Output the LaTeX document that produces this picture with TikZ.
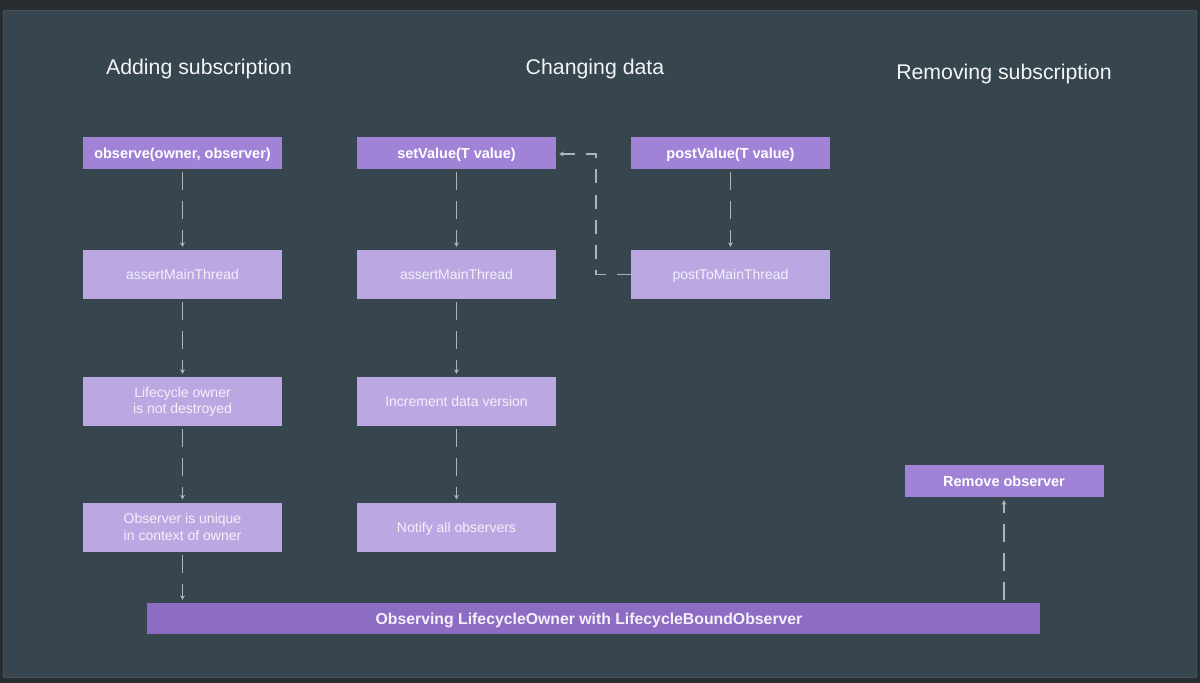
\documentclass[tikz,border=0pt]{standalone}
\usepackage{fontspec}
\setmainfont{Liberation Sans}
\usetikzlibrary{arrows.meta}
\definecolor{outerbg}{HTML}{262C30}
\definecolor{innerbg}{HTML}{37454F}
\definecolor{innerrim}{HTML}{44525B}
\definecolor{boxdark}{HTML}{A083D6}
\definecolor{boxlight}{HTML}{BBA8E2}
\definecolor{barcol}{HTML}{8D6CC3}
\definecolor{linecol}{HTML}{AAB5BB}
\definecolor{titlecol}{HTML}{F2F4F5}
\definecolor{softwhite}{HTML}{F4F0FA}
\begin{document}
\begin{tikzpicture}[x=1pt,y=-1pt,
  headbox/.style={fill=boxdark,text=white,inner sep=0pt,minimum width=199pt,minimum height=32pt,
    text height=10.4pt,text depth=0pt,font=\bfseries\fontsize{14.5}{17}\selectfont},
  stepbox/.style={fill=boxlight,text=softwhite,inner sep=0pt,minimum width=199pt,minimum height=49pt,
    align=center,font=\fontsize{14}{16.5}\selectfont},
  onestep/.style={stepbox,text height=10pt,text depth=0pt},
  barbox/.style={fill=barcol,text=softwhite,inner sep=0pt,minimum width=893pt,minimum height=31pt,
    text height=11.3pt,text depth=0pt,font=\bfseries\fontsize{15.8}{18}\selectfont},
  title/.style={text=titlecol,font=\fontsize{21.3}{25}\selectfont,inner sep=0pt,
    text height=15.25pt,text depth=0pt},
  conn/.style={draw=linecol,line width=1.3pt,dash pattern=on 18pt off 11pt,
    -{Stealth[length=4.5pt,width=5pt]},shorten <=3pt,shorten >=3pt}
]
\useasboundingbox (0,0) rectangle (1200,683);
\fill[outerbg] (0,0) rectangle (1200,683);
\fill[innerbg,draw=innerrim,line width=1pt] (3.5,10.5) rectangle (1196.5,677.5);

% titles
\node[title] (t1) at (199,67) {Adding subscription};
\node[title] (t2) at (595,67) {Changing data};
\node[title] (t3) at (1004,72) {Removing subscription};

% left column
\node[headbox] (obs) at (182.5,153) {observe(owner, observer)};
\node[onestep] (am1) at (182.5,274.5) {assertMainThread};
\node[stepbox] (lo) at (182.5,401.5) {\raisebox{-1.5pt}{\shortstack{Lifecycle owner\\is not destroyed}}};
\node[stepbox] (ou) at (182.5,527) {\raisebox{-1.5pt}{\shortstack{Observer is unique\\in context of owner}}};

% middle column
\node[headbox] (sv) at (456.5,153) {setValue(T value)};
\node[onestep] (am2) at (456.5,274.5) {assertMainThread};
\node[onestep] (inc) at (456.5,401.5) {Increment data version};
\node[onestep] (nao) at (456.5,527) {Notify all observers};

% right column
\node[headbox] (pv) at (730.5,153) {postValue(T value)};
\node[onestep] (ptm) at (730.5,274.5) {postToMainThread};

% removing
\node[headbox] (rem) at (1004,481) {Remove observer};

% bar
\node[barbox] (bar) at (593.5,618.5) {\hspace*{-9pt}Observing LifecycleOwner with LifecycleBoundObserver};

% connectors
\draw[conn] (obs) -- (am1);
\draw[conn] (am1) -- (lo);
\draw[conn] (lo) -- (ou);
\draw[conn] (ou.south) -- (ou.south |- bar.north);
\draw[conn] (sv) -- (am2);
\draw[conn] (am2) -- (inc);
\draw[conn] (inc) -- (nao);
\draw[conn] (pv) -- (ptm);
\draw[conn] (rem.south |- bar.north) -- (rem.south);
\coordinate (cb) at (596,274.5);
\coordinate (ct) at (596,154);
\draw[conn,dash pattern=on 14pt off 11.2pt,shorten <=0pt,line join=miter] (ptm.west) -- (cb) -- (ct) -- (sv.east |- ct);
\end{tikzpicture}
\end{document}
